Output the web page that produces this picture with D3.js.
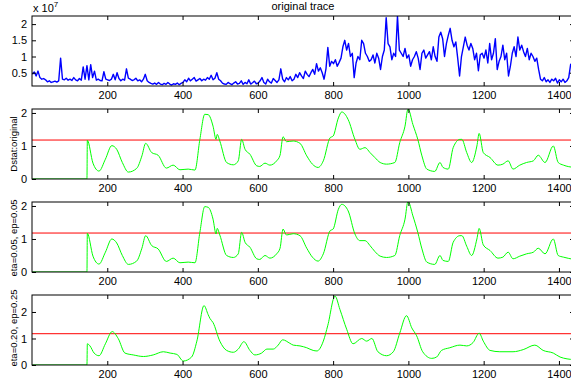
<!DOCTYPE html>
<html>
<head>
<meta charset="utf-8">
<script src="https://cdn.jsdelivr.net/npm/d3@7"></script>
<style>
  html, body { margin: 0; padding: 0; background: #fff; }
  svg { display: block; font-family: "Liberation Sans", Arial, Helvetica, sans-serif; }
</style>
</head>
<body>
<div id="chart"></div>
<script>
// trace sampled every 5 samples (x = 1, 6, 11, ...), units of 1e7
const traceStep = 5;
const traceValues = [
  0.45,0.52,0.40,0.55,0.35,0.30,0.32,0.28,0.22,0.25,0.20,0.22,0.24,0.21,0.25,0.95,0.30,0.28,0.33,0.27,
  0.30,0.26,0.35,0.28,0.25,0.32,0.27,0.68,0.30,0.72,0.28,0.75,0.35,0.55,0.27,0.30,0.26,0.25,0.53,0.30,
  0.28,0.26,0.30,0.45,0.28,0.50,0.32,0.25,0.30,0.27,0.62,0.33,0.30,0.26,0.28,0.33,0.25,0.28,0.22,0.30,
  0.45,0.25,0.20,0.17,0.15,0.18,0.14,0.20,0.15,0.13,0.17,0.14,0.20,0.15,0.12,0.16,0.14,0.18,0.13,0.17,
  0.20,0.28,0.22,0.33,0.25,0.30,0.35,0.24,0.28,0.32,0.25,0.30,0.27,0.35,0.30,0.42,0.28,0.33,0.50,0.30,
  0.25,0.18,0.15,0.14,0.20,0.16,0.13,0.18,0.22,0.15,0.17,0.25,0.14,0.20,0.16,0.28,0.15,0.19,0.24,0.16,
  0.18,0.25,0.35,0.20,0.15,0.30,0.22,0.18,0.32,0.26,0.20,0.28,0.62,0.30,0.22,0.35,0.28,0.38,0.25,0.30,
  0.45,0.35,0.50,0.40,0.32,0.55,0.45,0.38,0.50,0.60,0.45,0.78,0.55,0.65,0.50,0.30,0.62,1.28,0.70,0.85,
  0.78,0.90,0.70,0.82,0.95,1.30,1.50,1.20,1.40,1.00,1.10,0.35,0.80,1.00,0.90,1.50,1.40,1.10,1.00,0.85,
  0.90,1.05,0.80,1.10,0.95,0.60,1.00,1.20,2.20,1.40,1.30,0.90,1.10,1.00,2.25,1.20,1.10,1.00,1.25,0.95,
  1.05,0.70,0.90,1.00,1.15,0.95,0.60,1.10,1.20,0.95,1.05,1.15,0.90,1.30,1.00,0.85,1.60,1.75,1.55,1.00,
  1.40,1.65,1.87,1.50,1.30,1.45,0.95,0.40,1.00,1.30,1.60,1.35,1.20,1.40,1.25,0.90,1.10,0.56,1.05,1.10,
  0.95,1.20,0.80,1.40,0.90,1.10,1.55,0.60,0.85,1.00,1.35,0.90,1.10,0.40,0.70,1.10,1.30,1.00,1.60,1.20,
  1.35,1.15,1.00,1.25,0.90,1.10,1.00,0.85,0.95,0.60,0.30,0.25,0.35,0.22,0.28,0.20,0.30,0.25,0.33,0.18,
  0.28,0.22,0.30,0.20,0.25,0.35,0.75,0.80
];

// D-statistic curves, [sample, value]
const dstatOriginal = [
  [1,0],[146,0],[147,1.17],[162,0.48],[178,0.24],[195,0.6],[212,1.01],[225,0.9],[240,0.5],[256,0.21],
  [278,0.32],[292,0.7],[302,1.08],[318,0.8],[335,0.72],[357,0.33],[375,0.42],[393,0.28],[415,0.3],
  [433,0.27],[446,1.2],[459,1.96],[468,1.95],[481,1.6],[489,1.2],[492,1.35],[499,1.15],[517,0.5],
  [535,0.43],[548,0.55],[557,1.2],[566,0.9],[579,0.75],[597,0.4],[605,0.38],[619,0.48],[632,0.42],
  [650,0.55],[659,0.72],[667,1.28],[676,1.13],[694,1.15],[712,1.08],[730,0.7],[745,0.45],[760,0.35],
  [774,0.55],[792,1.25],[800,1.3],[814,1.85],[823,2.03],[840,1.8],[858,1.2],[871,0.9],[885,0.95],
  [898,0.8],[911,0.65],[925,0.5],[942,0.45],[964,0.5],[977,1.1],[991,1.6],[999,2.12],[1012,1.65],
  [1025,1.2],[1036,0.7],[1049,0.3],[1070,0.23],[1084,0.5],[1092,0.35],[1106,0.3],[1119,0.95],
  [1137,1.2],[1142,1.2],[1155,0.8],[1168,0.5],[1182,1.0],[1188,1.38],[1199,0.8],[1217,0.65],
  [1238,0.42],[1251,0.45],[1265,0.55],[1278,0.3],[1296,0.42],[1314,0.5],[1332,0.55],[1345,0.72],
  [1363,0.5],[1385,1.0],[1398,0.5],[1412,0.42],[1440,0.35]
];
const dstatEta005 = [
  [1,0],[146,0],[147,1.17],[162,0.48],[178,0.24],[195,0.6],[212,1.0],[225,0.88],[240,0.5],[256,0.23],
  [278,0.33],[292,0.72],[302,1.1],[318,0.8],[335,0.7],[357,0.32],[375,0.42],[393,0.28],[415,0.3],
  [433,0.28],[446,1.2],[459,1.98],[468,1.96],[481,1.6],[489,1.15],[492,1.32],[499,1.12],[517,0.5],
  [535,0.44],[548,0.55],[557,1.2],[566,0.9],[579,0.75],[597,0.4],[605,0.38],[619,0.5],[632,0.42],
  [650,0.55],[659,0.72],[667,1.3],[676,1.12],[694,1.16],[712,1.1],[730,0.72],[745,0.45],[760,0.33],
  [774,0.55],[792,1.25],[800,1.3],[814,1.9],[823,2.05],[840,1.85],[858,1.15],[871,0.95],[885,0.95],
  [898,0.8],[911,0.62],[925,0.48],[942,0.44],[964,0.5],[977,1.1],[991,1.6],[999,2.14],[1012,1.7],
  [1025,1.2],[1036,0.7],[1049,0.3],[1070,0.23],[1084,0.5],[1092,0.35],[1106,0.32],[1119,0.9],
  [1137,1.1],[1142,1.1],[1155,0.78],[1168,0.5],[1182,1.0],[1188,1.32],[1199,0.82],[1217,0.65],
  [1238,0.42],[1251,0.45],[1265,0.6],[1278,0.4],[1296,0.48],[1314,0.55],[1332,0.6],[1345,0.72],
  [1363,0.55],[1385,1.0],[1398,0.5],[1412,0.45],[1440,0.38]
];
const dstatEta020 = [
  [1,0],[146,0],[147,0.8],[154,0.72],[165,0.45],[178,0.35],[195,0.8],[213,1.26],[229,1.0],
  [247,0.45],[269,0.38],[296,0.32],[322,0.38],[349,0.5],[367,0.45],[385,0.4],[402,0.15],[424,0.3],
  [438,0.9],[457,2.24],[468,1.9],[473,1.75],[481,1.6],[499,0.9],[517,0.55],[535,0.48],[548,0.6],
  [563,0.88],[579,0.55],[592,0.38],[610,0.45],[624,0.6],[641,0.6],[654,0.75],[666,0.95],[685,0.82],
  [694,0.75],[712,0.72],[730,0.65],[747,0.55],[757,0.53],[774,0.9],[786,1.5],[805,2.6],[818,2.1],
  [836,1.35],[853,0.8],[876,1.0],[889,0.9],[903,1.0],[919,0.5],[942,0.35],[960,0.5],[977,1.2],
  [995,1.86],[1009,1.4],[1022,1.1],[1038,0.5],[1062,0.25],[1075,0.3],[1088,0.55],[1110,0.65],
  [1137,0.75],[1155,0.72],[1172,0.85],[1188,1.2],[1199,0.9],[1217,0.55],[1243,0.5],[1278,0.5],
  [1305,0.58],[1336,0.75],[1358,0.55],[1385,0.45],[1403,0.3],[1440,0.2]
];
const threshold = 1.18;

const xTicks = [200, 400, 600, 800, 1000, 1200, 1400];
const panels = [
  { key: "trace", top: 16, bottom: 86, yDomain: [0.09, 2.25], yTicks: [0.5, 1, 1.5, 2], label: null },
  { key: "orig", top: 109, bottom: 179, yDomain: [0, 2.12], yTicks: [0, 1, 2], label: "Dstat:original", labelY: 144, data: dstatOriginal },
  { key: "eta05", top: 202, bottom: 272, yDomain: [0, 2.12], yTicks: [0, 1, 2], label: "eta=0.05, ep=0.05", labelY: 238, data: dstatEta005 },
  { key: "eta20", top: 295, bottom: 365, yDomain: [0, 2.64], yTicks: [0, 1, 2], label: "eta=0.20, ep=0.25", labelY: 328, data: dstatEta020 }
];

const width = 571, height = 385;
const left = 32, right = 574;

const svg = d3.select("#chart").append("svg")
  .attr("width", width)
  .attr("height", height);

const x = d3.scaleLinear().domain([0, 1440]).range([left, right]);

panels.forEach((p, i) => {
  const y = d3.scaleLinear().domain(p.yDomain).range([p.bottom, p.top]);
  const g = svg.append("g");

  g.append("clipPath").attr("id", "clip" + i)
    .append("rect")
    .attr("x", left).attr("y", p.top)
    .attr("width", right - left).attr("height", p.bottom - p.top);

  const plot = g.append("g").attr("clip-path", `url(#clip${i})`);

  if (p.key === "trace") {
    const line = d3.line()
      .x((d, j) => x(1 + j * traceStep))
      .y(d => y(d));
    plot.append("path")
      .datum(traceValues)
      .attr("d", line)
      .attr("fill", "none")
      .attr("stroke", "#0000ff")
      .attr("stroke-width", 1.4)
      .attr("stroke-linejoin", "round");
  } else {
    // umbral
    plot.append("line")
      .attr("x1", left).attr("x2", right)
      .attr("y1", y(threshold)).attr("y2", y(threshold))
      .attr("stroke", "#ff0000")
      .attr("stroke-width", 1);
    const line = d3.line()
      .x(d => x(d[0]))
      .y(d => y(d[1]))
      .curve(d3.curveMonotoneX);
    plot.append("path")
      .datum(p.data)
      .attr("d", line)
      .attr("fill", "none")
      .attr("stroke", "#00ff00")
      .attr("stroke-width", 1);
  }

  // ejes con ticks hacia dentro
  const tk = 4;
  g.append("g")
    .attr("transform", `translate(0,${p.bottom})`)
    .call(d3.axisBottom(x).tickValues(xTicks).tickSize(-tk).tickPadding(5).tickFormat(d3.format("d")));
  g.append("g")
    .attr("transform", `translate(0,${p.top})`)
    .call(d3.axisTop(x).tickValues(xTicks).tickSize(-tk).tickFormat(""));
  g.append("g")
    .attr("transform", `translate(${left},0)`)
    .call(d3.axisLeft(y).tickValues(p.yTicks).tickSize(-tk).tickPadding(5).tickFormat(d3.format("")));
  g.append("g")
    .attr("transform", `translate(${right},0)`)
    .call(d3.axisRight(y).tickValues(p.yTicks).tickSize(-tk).tickFormat(""));

  g.selectAll(".domain").remove();
  g.selectAll(".tick line").attr("stroke", "#000");
  g.selectAll(".tick text").attr("font-size", 11).attr("fill", "#000")
    .attr("font-family", "Liberation Sans, Arial, sans-serif");

  g.append("rect")
    .attr("x", left).attr("y", p.top)
    .attr("width", right - left).attr("height", p.bottom - p.top)
    .attr("fill", "none")
    .attr("stroke", "#000")
    .attr("stroke-width", 1);

  if (p.label) {
    g.append("text")
      .attr("transform", `translate(17,${p.labelY}) rotate(-90)`)
      .attr("text-anchor", "middle")
      .attr("font-size", 9.5)
      .text(p.label);
  }
});

// titulo y exponente
svg.append("text")
  .attr("x", (left + right) / 2).attr("y", 10)
  .attr("text-anchor", "middle")
  .attr("font-size", 11)
  .text("original trace");

const expo = svg.append("text")
  .attr("x", 33).attr("y", 12)
  .attr("font-size", 11)
  .text("x 10");
expo.append("tspan")
  .attr("dy", -5)
  .attr("font-size", 8)
  .text("7");
</script>
</body>
</html>
